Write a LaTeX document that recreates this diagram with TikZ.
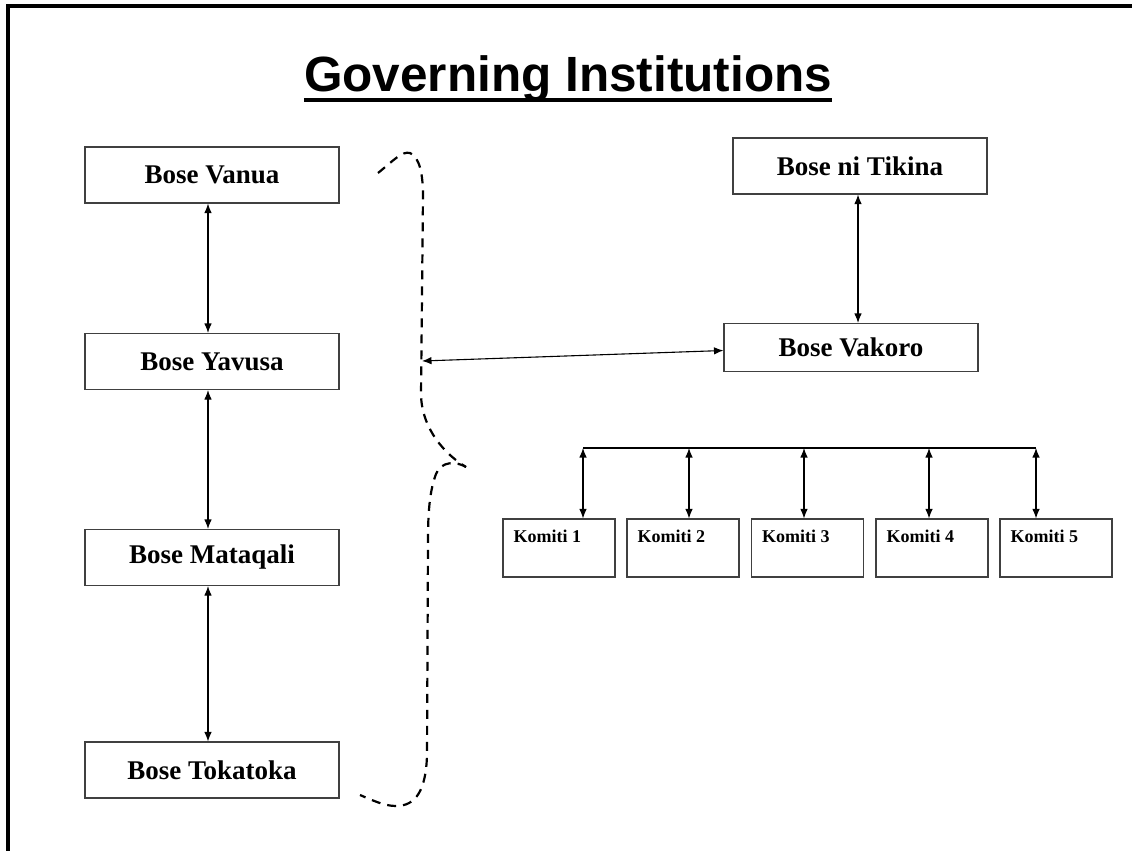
\documentclass[tikz,border=0pt]{standalone}
\usepackage{fontspec}
\setmainfont{Liberation Serif}
\newfontfamily\titlefont{Liberation Sans}
\usetikzlibrary{arrows.meta}
\begin{document}
\begin{tikzpicture}[x=1pt,y=-1pt,
  mainbox/.style={draw=black!75,line width=1.1pt,minimum width=254pt,minimum height=56pt,inner sep=0pt,
    font=\fontsize{27}{30}\selectfont\bfseries},
  kbox/.style={draw=black!75,line width=1.1pt,minimum width=112pt,minimum height=58pt,inner sep=0pt},
  ktext/.style={font=\fontsize{18}{20}\selectfont\bfseries,inner sep=0pt,anchor=base west},
  arr/.style={line width=1.1pt,{Latex[length=9.5pt,width=7.5pt]}-{Latex[length=9.5pt,width=7.5pt]}},
  brace/.style={line width=2.2pt,dash pattern=on 9pt off 7pt},
  frame/.style={line width=4pt}]
\useasboundingbox (0,0) rectangle (1132,851);
% frame
\coordinate (fa) at (8,851);
\coordinate (fb) at (8,6);
\coordinate (fc) at (1132,6);
\draw[frame] (fa) -- (fb) -- (fc);
% title
\node[font=\titlefont\fontsize{49.5}{55}\selectfont\bfseries,inner sep=0pt,anchor=base] (title) at (568,91) {Governing Institutions};
\draw[line width=4.5pt] ([yshift=-9pt]title.base west) -- ([yshift=-9pt]title.base east);
% left column
\node[mainbox] (vanua) at (212,175) {Bose Vanua};
\node[mainbox] (yavusa) at (212,361.5) {Bose Yavusa};
\node[mainbox] (mataqali) at (212,557.5) {Bose Mataqali};
\node[mainbox] (tokatoka) at (212,770) {Bose Tokatoka};
\draw[arr] ([xshift=-4pt]vanua.south) -- ([xshift=-4pt]yavusa.north);
\draw[arr] ([xshift=-4pt]yavusa.south) -- ([xshift=-4pt]mataqali.north);
\draw[arr] ([xshift=-4pt]mataqali.south) -- ([xshift=-4pt]tokatoka.north);
% brace
\draw[brace] (378,173) .. controls (394,160) and (402,151) .. (410,153)
  .. controls (420,157) and (423,176) .. (423,196) -- (421,395)
  .. controls (422,430) and (446,455) .. (466,467);
\draw[brace] (466,467) .. controls (456,461) and (441,461) .. (436,474)
  .. controls (430,490) and (428,510) .. (428,540) -- (427,755)
  .. controls (426,790) and (416,806) .. (396,806)
  .. controls (384,806) and (372,800) .. (360,795);
\coordinate (bracemid) at (422,361);
% right
\node[mainbox] (tikina) at (860,166) {Bose ni Tikina};
\node[mainbox,minimum height=48pt] (vakoro) at (851,347.5) {Bose Vakoro};
\draw[arr] ([xshift=-2pt]tikina.south) -- ([xshift=7pt]vakoro.north);
\draw[arr] (bracemid) -- ([yshift=-3pt]vakoro.west);
% komiti
\node[kbox] (k1) at (559,548) {};
\node[kbox] (k2) at (683,548) {};
\node[kbox] (k3) at (807.5,548) {};
\node[kbox] (k4) at (932,548) {};
\node[kbox] (k5) at (1056,548) {};
\node[ktext] (kt1) at ([xshift=11pt,yshift=-24pt]k1.north west) {Komiti 1};
\node[ktext] (kt2) at ([xshift=11pt,yshift=-24pt]k2.north west) {Komiti 2};
\node[ktext] (kt3) at ([xshift=11pt,yshift=-24pt]k3.north west) {Komiti 3};
\node[ktext] (kt4) at ([xshift=11pt,yshift=-24pt]k4.north west) {Komiti 4};
\node[ktext] (kt5) at ([xshift=11pt,yshift=-24pt]k5.north west) {Komiti 5};
\coordinate (t1) at (583,448);
\coordinate (t2) at (689,448);
\coordinate (t3) at (804,448);
\coordinate (t4) at (929,448);
\coordinate (t5) at (1036,448);
\draw[line width=2.2pt] (t1) -- (t5);
\draw[arr] (t1) -- (t1 |- k1.north);
\draw[arr] (t2) -- (t2 |- k2.north);
\draw[arr] (t3) -- (t3 |- k3.north);
\draw[arr] (t4) -- (t4 |- k4.north);
\draw[arr] (t5) -- (t5 |- k5.north);
\end{tikzpicture}
\end{document}
